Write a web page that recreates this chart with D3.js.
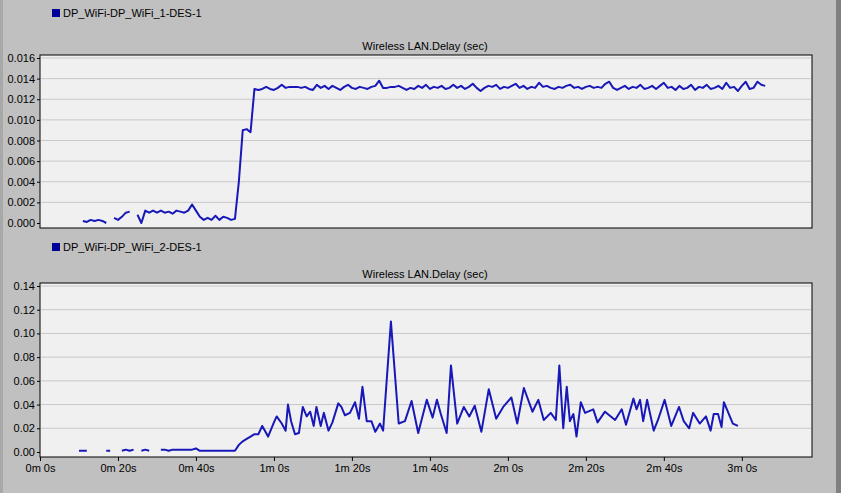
<!DOCTYPE html>
<html><head><meta charset="utf-8">
<script src="https://cdn.jsdelivr.net/npm/d3@7"></script>
<style>body{margin:0;background:#c0c0c0}svg{display:block}text{font-family:"Liberation Sans",Arial,sans-serif;font-size:11px;fill:#000}</style>
</head><body><svg id="c" width="841" height="493"></svg>
<script>
const legend1 = "DP_WiFi-DP_WiFi_1-DES-1";
const legend2 = "DP_WiFi-DP_WiFi_2-DES-1";
const chartTitle = "Wireless LAN.Delay (sec)";
const xTickSeconds = [0,20,40,60,80,100,120,140,160,180];
const xTickLabels = ["0m 0s","0m 20s","0m 40s","1m 0s","1m 20s","1m 40s","2m 0s","2m 20s","2m 40s","3m 0s"];
const yTicksTop = [0,0.002,0.004,0.006,0.008,0.010,0.012,0.014,0.016];
const yTicksBottom = [0,0.02,0.04,0.06,0.08,0.10,0.12,0.14];

// top series: one value per second starting at 11 s (null = gap)
const topStart = 11;
const delayTop = [
.0002,.0001,.0003,.0002,.0003,.0002,.0000,null,
.0005,.0003,.0006,.0010,.0011,null,
.0008,.0000,.0012,.0010,.0012,.0010,.0012,.0010,.0011,.0009,.0012,.0011,.0010,.0012,
.0018,.0012,.0006,.0003,.0005,.0003,.0007,.0003,.0006,.0005,.0003,.0004,
.0040,.0090,.0091,.0088,.0130,
.0129,.0130,.0132,.0130,.0129,.0131,.0134,.0131,.0132,.0132,
.0132,.0131,.0132,.0130,.0129,.0134,.0131,.0133,.0130,.0133,
.0131,.0129,.0132,.0134,.0131,.0130,.0132,.0131,.0130,.0132,
.0133,.0138,.0131,.0131,.0132,.0132,.0133,.0131,.0129,.0131,
.0130,.0133,.0131,.0134,.0130,.0132,.0131,.0133,.0130,.0131,
.0134,.0131,.0133,.0130,.0132,.0135,.0131,.0128,.0131,.0133,
.0132,.0134,.0130,.0132,.0131,.0133,.0135,.0131,.0133,.0130,
.0132,.0131,.0136,.0132,.0133,.0131,.0130,.0132,.0131,.0133,
.0134,.0131,.0132,.0130,.0132,.0133,.0131,.0132,.0131,.0135,
.0137,.0131,.0129,.0131,.0133,.0130,.0132,.0131,.0134,.0130,
.0131,.0133,.0130,.0133,.0136,.0131,.0132,.0129,.0133,.0130,
.0131,.0134,.0129,.0132,.0131,.0134,.0130,.0131,.0133,.0130,
.0136,.0131,.0132,.0128,.0133,.0137,.0130,.0131,.0137,.0134,
.0133];

// bottom series: explicit times (s) and values (null = gap)
const timeBottom = [10,11,12,12.5,17,18,18.5,21,22,23,24,24.5,26,27,28,28.7,
31,32,33,34,35,36,37,38,39,40,41,42,43,44,45,46,47,48,49,50,
51,52,53,54,55,56,57,58.5,60,60.7,62,63,63.6,64.4,65.4,66.4,67.4,68.4,69.3,70.2,70.9,72,72.8,74,75,76.5,77.3,78.2,79.5,80.8,81.8,82.7,83.8,85,86,87.2,88,90,92,93.6,95.3,97,
99.2,100.7,101.8,102.8,104.3,105.4,107,108.7,110.1,111.5,113.2,115.1,117,118.8,120.9,122.4,124.1,126.3,127.8,129.2,131,132.3,133.2,134.2,135.1,135.9,136.8,137.6,138.7,139.8,141.9,143,144.9,147.5,149.2,150.3,152.2,153,153.9,154.7,155.7,157.4,158.5,160.2,161.9,163.9,165.1,166.5,167.5,169.2,170.8,172,172.8,173.9,174.8,175.4,177.7,179];
const delayBottom = [0.001,0.001,0.001,null,0.001,0.001,null,0.001,0.002,0.001,0.002,null,0.001,0.002,0.001,null,
0.002,0.002,0.001,0.002,0.002,0.002,0.002,0.002,0.002,0.003,0.001,0.001,0.001,0.001,0.001,0.001,0.001,0.001,0.001,0.001,
0.006,0.009,0.011,0.013,0.015,0.015,0.022,0.013,0.025,0.030,0.024,0.018,0.040,0.026,0.015,0.016,0.038,0.030,0.034,0.022,0.038,0.022,0.033,0.018,0.025,0.041,0.038,0.031,0.033,0.042,0.028,0.055,0.026,0.026,0.017,0.024,0.018,0.110,0.024,0.026,0.043,0.016,
0.044,0.029,0.044,0.032,0.016,0.073,0.024,0.038,0.030,0.039,0.017,0.053,0.028,0.038,0.046,0.024,0.054,0.034,0.044,0.027,0.033,0.027,0.073,0.020,0.055,0.026,0.032,0.013,0.042,0.033,0.036,0.025,0.034,0.027,0.036,0.023,0.045,0.036,0.044,0.026,0.044,0.018,0.027,0.044,0.022,0.038,0.026,0.020,0.033,0.024,0.030,0.018,0.032,0.032,0.021,0.042,0.024,0.022];

const svg = d3.select("#c");
svg.append("rect").attr("x",836).attr("y",0).attr("width",5).attr("height",493).attr("fill","#808080");
svg.append("rect").attr("x",0).attr("y",0).attr("width",3).attr("height",493).attr("fill","#a8a8a8");

const x = d3.scaleLinear().domain([0,198]).range([40,812]);
const lineColor = "#1818b8";

function panel(top, bottom, yMax, ticks, fmt, legend, legendY, titleY, data, showX){
  const y = d3.scaleLinear().domain([0,yMax]).range([bottom-5, top+3]);
  svg.append("rect").attr("x",52).attr("y",legendY).attr("width",8).attr("height",8).attr("fill","#000099");
  svg.append("text").attr("x",63).attr("y",legendY+8).text(legend);
  svg.append("text").attr("x",425).attr("y",titleY).attr("text-anchor","middle").text(chartTitle);
  svg.append("rect").attr("x",40).attr("y",top).attr("width",772).attr("height",bottom-top).attr("fill","#f0f0f0").attr("stroke","#000");
  svg.append("g").selectAll("line").data(ticks.slice(1)).join("line")
    .attr("x1",41).attr("x2",811).attr("y1",d=>y(d)).attr("y2",d=>y(d)).attr("stroke","#c8c8c8");
  const ya = svg.append("g").attr("transform","translate(40,0)")
    .call(d3.axisLeft(y).tickValues(ticks).tickFormat(fmt).tickSize(3).tickPadding(2));
  ya.select(".domain").remove();
  ya.selectAll("text").style("font-size","11px").style("font-family","Liberation Sans, Arial").attr("fill","#000");
  if(showX){
    const xa = svg.append("g").attr("transform",`translate(0,${bottom})`)
      .call(d3.axisBottom(x).tickValues(xTickSeconds).tickFormat((d,i)=>xTickLabels[i]).tickSize(4).tickPadding(3));
    xa.select(".domain").remove();
    xa.selectAll("text").style("font-size","11px").style("font-family","Liberation Sans, Arial").attr("fill","#000");
  }
  const line = d3.line().defined(d=>d[1]!=null).x(d=>x(d[0])).y(d=>y(d[1]));
  svg.append("path").datum(data).attr("d",line).attr("fill","none").attr("stroke",lineColor).attr("stroke-width",2).attr("stroke-linejoin","round");
}
const topData = delayTop.map((v,i)=>[topStart+i, v]);
const botData = timeBottom.map((t,i)=>[t, delayBottom[i]]);
panel(55,228,0.016,yTicksTop,d3.format(".3f"),legend1,9,50,topData,false);
panel(283,457,0.14,yTicksBottom,d3.format(".2f"),legend2,243,278,botData,true);
</script></body></html>
